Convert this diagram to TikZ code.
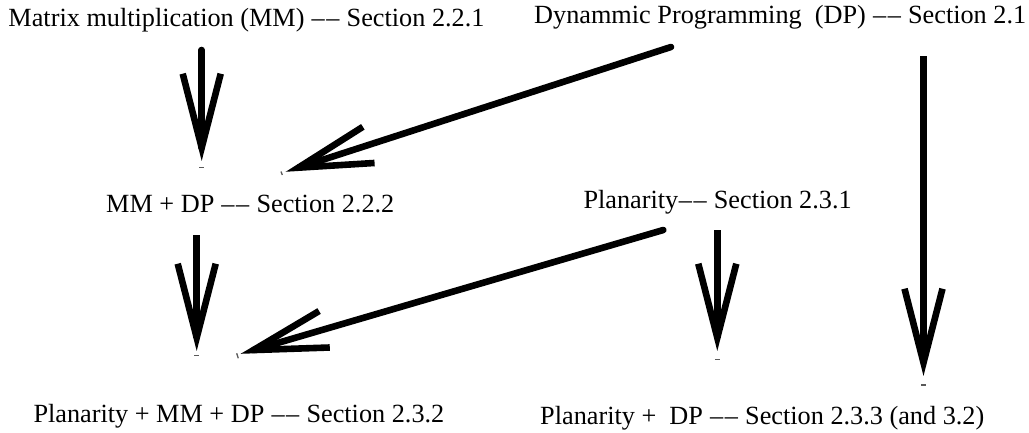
\documentclass[tikz,border=0pt]{standalone}
\usepackage{fontspec}
\setmainfont{Liberation Serif}
\usetikzlibrary{calc}

\tikzset{
  label/.style={anchor=base west, inner sep=0pt, font=\fontsize{26.25}{30}\selectfont},
  shaft/.style={line width=6.6pt, line cap=butt},
  barb/.style={line width=6.6pt, line cap=butt, line join=miter, miter limit=20},
  speck/.style={line width=1.3pt, black!65},
}

% double dash used between a topic and its section
\newcommand\dd{\kern0.6pt–\kern1.6pt–\kern0.6pt}

% thick shaft with a long open V head; #2 = start, #3 = visible tip
\newcommand\drawbigarrow[3][]{%
  \coordinate (g) at ($(#3)!14pt!(#2)$);
  \draw[shaft,#1] (#2) -- (g);
  \draw[barb] ($(g)!74pt!(#2)!19pt!90:(#2)$) -- (g) -- ($(g)!74pt!(#2)!19pt!-90:(#2)$);
}

\begin{document}
\begin{tikzpicture}[x=1pt, y=-1pt]
\useasboundingbox (0,0) rectangle (1029,432);

% topics
\node[label] (mm)   at (8.3,26.7)   {Matrix multiplication (MM) \dd{} Section 2.2.1};
\node[label] (dp)   at (534,23)     {Dynammic Programming\ \ (DP) \dd{} Section 2.1};
\node[label] (mmdp) at (106,212.3)  {MM + DP \dd{} Section 2.2.2};
\node[label] (pl)   at (583.3,208.3){Planarity\dd{} Section 2.3.1};
\node[label] (plmmdp) at (33.3,422.3) {Planarity + MM + DP \dd{} Section 2.3.2};
\node[label] (pldp) at (540,424)    {Planarity +\ \ DP \dd{} Section 2.3.3 (and 3.2)};

% connector end points
\coordinate (mm-out)     at (201.7,50);
\coordinate (mmdp-in)    at (201.7,161.7);
\coordinate (dp-out1)    at (671,47);
\coordinate (mmdp-in2)   at (285,172);
\coordinate (dp-out2)    at (923.5,56);
\coordinate (pldp-in2)   at (923.5,376.7);
\coordinate (mmdp-out)   at (196.7,235);
\coordinate (plmmdp-in)  at (196.7,351.7);
\coordinate (pl-out1)    at (663.3,230);
\coordinate (plmmdp-in2) at (240,354);
\coordinate (pl-out2)    at (717.3,230);
\coordinate (pldp-in)    at (717.3,351.7);

% dependencies
\drawbigarrow[line cap=round]{mm-out}{mmdp-in}
\drawbigarrow[line cap=round]{dp-out1}{mmdp-in2}
\drawbigarrow{dp-out2}{pldp-in2}
\drawbigarrow{mmdp-out}{plmmdp-in}
\drawbigarrow[line cap=round]{pl-out1}{plmmdp-in2}
\drawbigarrow{pl-out2}{pldp-in}

% small specks under the tips
\draw[speck] ($(mmdp-in)+(-2.5,6)$) -- ++(5,0);
\draw[speck] ($(plmmdp-in)+(-2.5,4)$) -- ++(5,0);
\draw[speck] ($(pldp-in)+(-2.5,7.5)$) -- ++(5,0);
\draw[speck] ($(pldp-in2)+(-2.5,8.3)$) -- ++(5,0);
\draw[speck] ($(mmdp-in2)+(-4,-0.5)$) -- ++(1.3,3.5);
\draw[speck] ($(plmmdp-in2)+(-3.3,-0.7)$) -- ++(1.6,5);
\end{tikzpicture}
\end{document}
